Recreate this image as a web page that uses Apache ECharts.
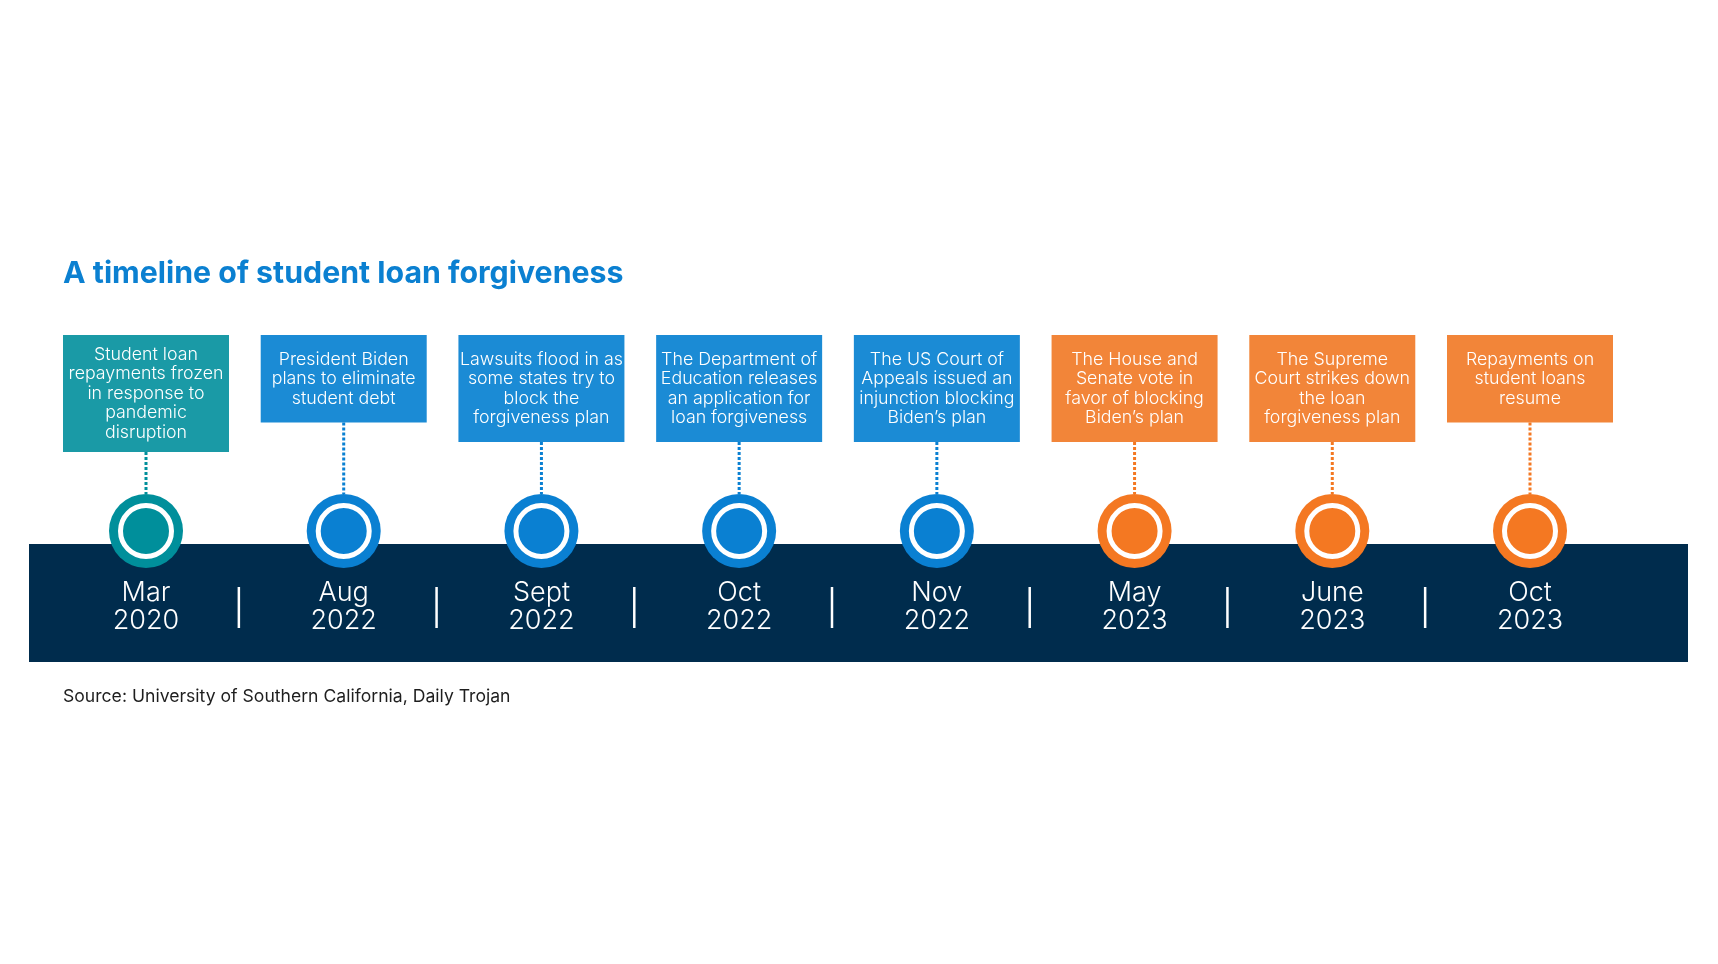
<!DOCTYPE html>
<html>
<head>
<meta charset="utf-8">
<title>A timeline of student loan forgiveness</title>
<script src="https://cdn.jsdelivr.net/npm/echarts@6/dist/echarts.min.js"></script>
<style>
  html, body { margin: 0; padding: 0; background: #fff; }
  #main { width: 1718px; height: 964px; }
</style>
</head>
<body>
<div id="main"></div>
<script>
// timeline data
const months = ['Mar', 'Aug', 'Sept', 'Oct', 'Nov', 'May', 'June', 'Oct'];
const years = ['2020', '2022', '2022', '2022', '2022', '2023', '2023', '2023'];
const phases = ['start', 'plan', 'plan', 'plan', 'plan', 'block', 'block', 'block'];
const events = [
    ['Student loan', 'repayments frozen', 'in response to', 'pandemic', 'disruption'],
    ['President Biden', 'plans to eliminate', 'student debt'],
    ['Lawsuits flood in as', 'some states try to', 'block the', 'forgiveness plan'],
    ['The Department of', 'Education releases', 'an application for', 'loan forgiveness'],
    ['The US Court of', 'Appeals issued an', 'injunction blocking', 'Biden’s plan'],
    ['The House and', 'Senate vote in', 'favor of blocking', 'Biden’s plan'],
    ['The Supreme', 'Court strikes down', 'the loan', 'forgiveness plan'],
    ['Repayments on', 'student loans', 'resume']
];

// box colour / marker colour per phase
const boxColors = { start: '#1a9aa6', plan: '#1b8bd5', block: '#f28539' };
const dotColors = { start: '#008f9b', plan: '#0a80d2', block: '#f47822' };

const FONT = 'Inter, "Noto Sans", sans-serif';

let chart = echarts.init(document.getElementById('main'));

chart.setOption({
    backgroundColor: '#ffffff',
    animation: false,
    title: [{
        text: 'A timeline of student loan forgiveness',
        left: 58,
        top: 254,
        textStyle: { color: '#0b80d1', fontSize: 30.3, fontWeight: 'bold', fontFamily: FONT }
    }, {
        text: 'Source: University of Southern California, Daily Trojan',
        left: 58,
        top: 683,
        textStyle: { color: '#1e1e1e', fontSize: 17.6, fontWeight: 'normal', fontFamily: FONT }
    }],
    grid: { left: 146, right: 188, top: 431, bottom: 333 },
    xAxis: { type: 'value', min: 0, max: 7, show: false },
    yAxis: { type: 'value', min: -1, max: 1, show: false },
    graphic: [{
        type: 'rect',
        z: 0,
        silent: true,
        shape: { x: 29, y: 544, width: 1659, height: 118 },
        style: { fill: '#002c4d' }
    }],
    series: [{
        type: 'custom',
        z: 10,
        data: months.map((m, i) => [i, 0]),
        renderItem: function (params, api) {
            const i = params.dataIndex;
            const p = api.coord([api.value(0), api.value(1)]);
            const cx = p[0], cy = p[1];
            const lines = events[i];
            const boxW = 166;
            const boxH = Math.min(lines.length * 19.5 + 29, 117);
            const boxTop = 335;
            const bc = boxColors[phases[i]];
            const dc = dotColors[phases[i]];
            const children = [
                {
                    type: 'rect',
                    shape: { x: cx - boxW / 2, y: boxTop, width: boxW, height: boxH },
                    style: { fill: bc }
                },
                {
                    type: 'text',
                    style: {
                        text: lines.join('\n'),
                        x: cx, y: boxTop + boxH / 2,
                        align: 'center', verticalAlign: 'middle',
                        fill: '#ffffff', fontSize: 17.8, lineHeight: 19.5,
                        fontFamily: FONT, fontWeight: 300
                    }
                },
                {
                    type: 'line',
                    shape: { x1: cx, y1: boxTop + boxH, x2: cx, y2: cy - 37 },
                    style: { stroke: dc, lineWidth: 3, lineDash: [3, 2] }
                },
                {
                    type: 'circle',
                    shape: { cx: cx, cy: cy, r: 37 },
                    style: { fill: dc }
                },
                {
                    type: 'circle',
                    shape: { cx: cx, cy: cy, r: 25.5 },
                    style: { fill: dc, stroke: '#ffffff', lineWidth: 5 }
                },
                {
                    type: 'text',
                    style: {
                        text: months[i] + '\n' + years[i],
                        x: cx, y: cy + 76,
                        align: 'center', verticalAlign: 'middle',
                        fill: '#ffffff', fontSize: 27, lineHeight: 28,
                        fontFamily: FONT, fontWeight: 300
                    }
                }
            ];
            if (i < months.length - 1) {
                const next = api.coord([api.value(0) + 0.5, 0]);
                const dx = next[0] - 6;
                children.push({
                    type: 'line',
                    shape: { x1: dx, y1: cy + 56, x2: dx, y2: cy + 97 },
                    style: { stroke: '#ffffff', lineWidth: 2.5 }
                });
            }
            return { type: 'group', children: children };
        }
    }]
});
</script>
</body>
</html>
